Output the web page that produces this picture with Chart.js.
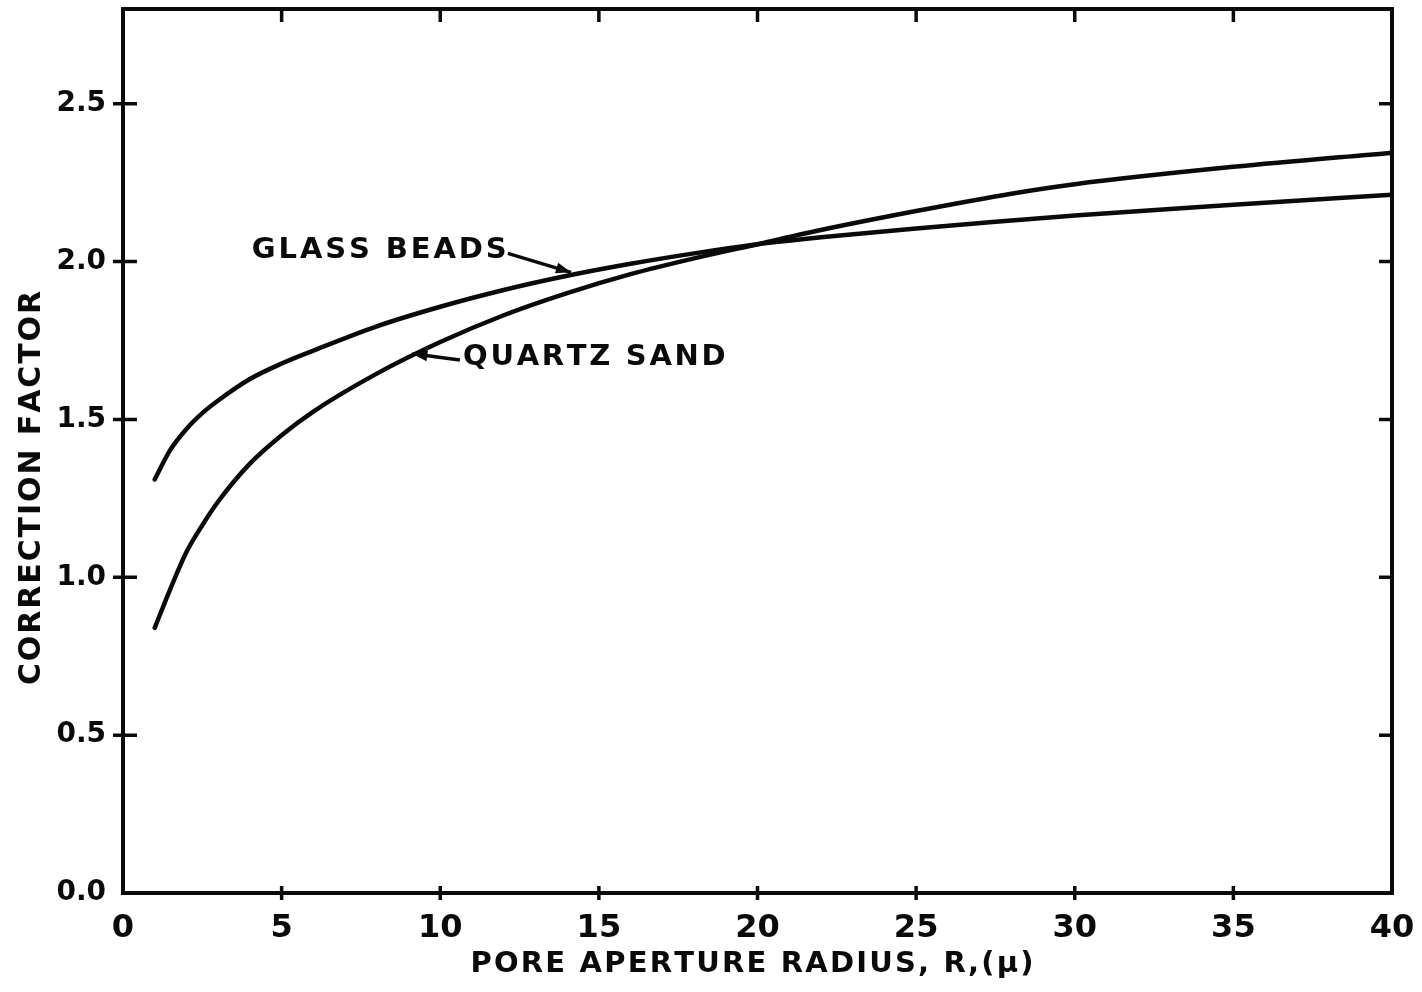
<!DOCTYPE html>
<html>
<head>
<meta charset="utf-8">
<title>Correction factor vs pore aperture radius</title>
<script src="https://cdn.jsdelivr.net/npm/chart.js@4.4.1/dist/chart.umd.min.js"></script>
<style>
  html, body { margin: 0; padding: 0; background: #fff; }
  canvas { display: block; }
</style>
</head>
<body>
<canvas id="chart" width="1422" height="992"></canvas>
<script>
// Pore aperture radius R (microns)
const radius = [1, 1.5, 2, 2.5, 3, 4, 5, 6, 8, 10, 12, 14, 16, 18, 20, 22, 25, 28, 30, 35, 40];
// Correction factor, glass beads
const glassBeads = [1.31, 1.405, 1.47, 1.52, 1.56, 1.628, 1.677, 1.718, 1.795, 1.857, 1.91, 1.955, 1.993, 2.026, 2.055, 2.077, 2.105, 2.13, 2.146, 2.18, 2.212];
// Correction factor, quartz sand
const quartzSand = [0.84, 0.965, 1.08, 1.165, 1.24, 1.36, 1.45, 1.525, 1.645, 1.745, 1.83, 1.90, 1.96, 2.01, 2.055, 2.10, 2.16, 2.215, 2.245, 2.30, 2.345];

// Axis tick values and labels
const xTickValues = [0, 5, 10, 15, 20, 25, 30, 35, 40];
const yTickValues = [0, 0.5, 1.0, 1.5, 2.0, 2.5];
const yTickLabels = ['0.0', '0.5', '1.0', '1.5', '2.0', '2.5'];

// Text
const xTitle = 'PORE APERTURE RADIUS, R,(\u00B5)';
const yTitle = 'CORRECTION FACTOR';
const glassLabel = 'GLASS BEADS';
const quartzLabel = 'QUARTZ SAND';

const FONT = '"DejaVu Sans", "Liberation Sans", sans-serif';
const INK = '#0a0a0a';

// Draw a string with extra spacing between characters
function spacedText(ctx, text, x, y, spacing, align) {
  const widths = [...text].map(ch => ctx.measureText(ch).width);
  const total = widths.reduce((a, b) => a + b, 0) + spacing * (widths.length - 1);
  let cx = align === 'center' ? x - total / 2 : (align === 'right' ? x - total : x);
  ctx.textAlign = 'left';
  [...text].forEach((ch, i) => {
    ctx.fillText(ch, cx, y);
    cx += widths[i] + spacing;
  });
}

// Leader line ending in a filled arrowhead
function arrow(ctx, x0, y0, x1, y1) {
  ctx.beginPath();
  ctx.moveTo(x0, y0);
  ctx.lineTo(x1, y1);
  ctx.lineWidth = 3.5;
  ctx.stroke();
  const a = Math.atan2(y1 - y0, x1 - x0);
  const len = 15, half = 5.5;
  ctx.beginPath();
  ctx.moveTo(x1, y1);
  ctx.lineTo(x1 - len * Math.cos(a) + half * Math.sin(a), y1 - len * Math.sin(a) - half * Math.cos(a));
  ctx.lineTo(x1 - len * Math.cos(a) - half * Math.sin(a), y1 - len * Math.sin(a) + half * Math.cos(a));
  ctx.closePath();
  ctx.fill();
}

// Frame, crossing ticks, axis titles and curve labels
const framePlugin = {
  id: 'frame',
  afterDatasetsDraw(chart) {
    const { ctx, chartArea: ca, scales } = chart;
    const xs = scales.x, ys = scales.y;
    ctx.save();
    ctx.strokeStyle = INK;
    ctx.fillStyle = INK;
    ctx.lineCap = 'butt';

    // frame
    ctx.lineWidth = 4;
    ctx.strokeRect(ca.left, ca.top, ca.right - ca.left, ca.bottom - ca.top);

    // x ticks: crossing at the bottom, inward at the top
    ctx.lineWidth = 3.5;
    xTickValues.forEach(v => {
      if (v === 0 || v === 40) return;
      const px = xs.getPixelForValue(v);
      ctx.beginPath();
      ctx.moveTo(px, ca.bottom - 7); ctx.lineTo(px, ca.bottom + 7);
      ctx.moveTo(px, ca.top); ctx.lineTo(px, ca.top + 13);
      ctx.stroke();
    });
    // y ticks: crossing at the left, inward at the right
    yTickValues.forEach(v => {
      if (v === 0) return;
      const py = ys.getPixelForValue(v);
      ctx.beginPath();
      ctx.moveTo(ca.left - 10, py); ctx.lineTo(ca.left + 14, py);
      ctx.moveTo(ca.right - 13, py); ctx.lineTo(ca.right, py);
      ctx.stroke();
    });

    // axis titles
    ctx.textBaseline = 'alphabetic';
    ctx.font = 'bold 29px ' + FONT;
    spacedText(ctx, xTitle, 752, 972, 2.2, 'center');

    ctx.save();
    ctx.translate(40, 488);
    ctx.rotate(-Math.PI / 2);
    ctx.font = 'bold 30px ' + FONT;
    spacedText(ctx, yTitle, 0, 0, 1.9, 'center');
    ctx.restore();

    // curve labels with leaders
    ctx.font = 'bold 29px ' + FONT;
    spacedText(ctx, glassLabel, xs.getPixelForValue(4.06), ys.getPixelForValue(2.011), 2.9, 'left');
    spacedText(ctx, quartzLabel, xs.getPixelForValue(10.72), ys.getPixelForValue(1.671), 2.7, 'left');

    arrow(ctx, xs.getPixelForValue(12.13), ys.getPixelForValue(2.026),
               xs.getPixelForValue(14.12), ys.getPixelForValue(1.966));
    arrow(ctx, xs.getPixelForValue(10.62), ys.getPixelForValue(1.688),
               xs.getPixelForValue(9.12), ys.getPixelForValue(1.708));
    ctx.restore();
  }
};

const toPoints = ys => radius.map((r, i) => ({ x: r, y: ys[i] }));

const lineStyle = {
  borderColor: INK,
  borderWidth: 4.5,
  pointRadius: 0,
  pointHoverRadius: 0,
  fill: false,
  cubicInterpolationMode: 'monotone',
  borderCapStyle: 'round',
  borderJoinStyle: 'round'
};

// Scales are given fixed sizes and no edge padding so the frame sits where intended
const noPad = s => { s.paddingTop = 0; s.paddingBottom = 0; s.paddingLeft = 0; s.paddingRight = 0; };

new Chart(document.getElementById('chart'), {
  type: 'line',
  data: {
    datasets: [
      Object.assign({ label: glassLabel, data: toPoints(glassBeads) }, lineStyle),
      Object.assign({ label: quartzLabel, data: toPoints(quartzSand) }, lineStyle)
    ]
  },
  options: {
    responsive: false,
    animation: false,
    devicePixelRatio: 1,
    layout: { padding: { left: 0, top: 9, right: 30, bottom: 0 } },
    plugins: { legend: { display: false }, tooltip: { enabled: false } },
    events: [],
    scales: {
      x: {
        type: 'linear',
        min: 0,
        max: 40,
        grid: { display: false },
        border: { display: false },
        afterBuildTicks: s => { s.ticks = xTickValues.map(v => ({ value: v })); },
        afterFit: s => { s.height = 99; noPad(s); },
        ticks: {
          color: INK,
          padding: 8,
          maxRotation: 0,
          font: { family: FONT, size: 32, weight: 'bold' },
          callback: v => String(v)
        }
      },
      y: {
        type: 'linear',
        min: 0,
        max: 2.8,
        grid: { display: false },
        border: { display: false },
        afterBuildTicks: s => { s.ticks = yTickValues.map(v => ({ value: v })); },
        afterFit: s => { s.width = 123; noPad(s); },
        ticks: {
          color: INK,
          padding: 9,
          font: { family: FONT, size: 28, weight: 'bold' },
          callback: v => yTickLabels[yTickValues.indexOf(v)] ?? ''
        }
      }
    }
  },
  plugins: [framePlugin]
});
</script>
</body>
</html>
